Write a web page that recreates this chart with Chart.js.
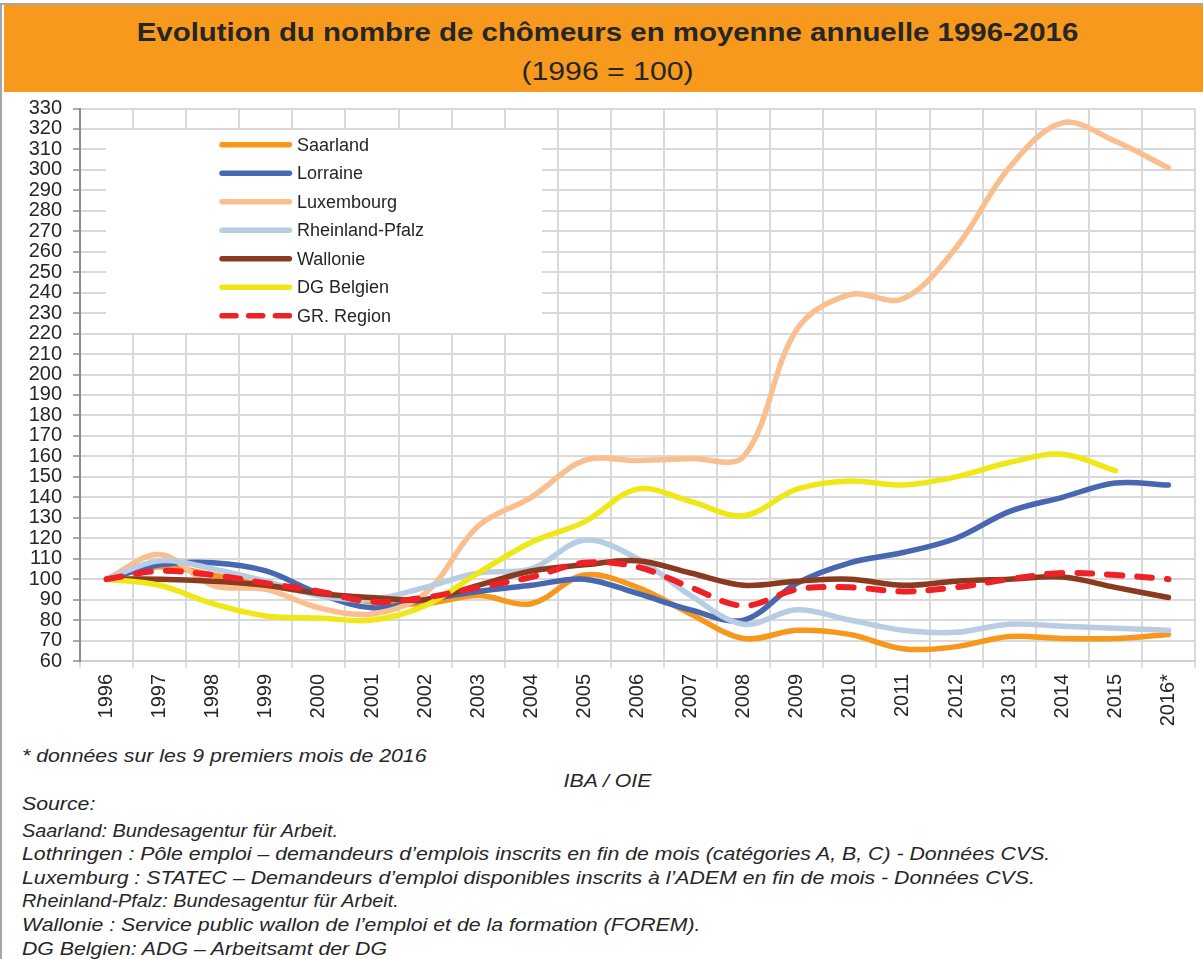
<!DOCTYPE html>
<html>
<head>
<meta charset="utf-8">
<script src="https://cdn.jsdelivr.net/npm/chart.js@4.4.1/dist/chart.umd.min.js"></script>
<style>
  html, body { margin: 0; padding: 0; background: #fff; }
  body { width: 1203px; height: 959px; position: relative; overflow: hidden;
         font-family: "Liberation Sans", Arial, sans-serif; color: #262626; }
  #frame { position: absolute; left: 0; top: 3px; width: 1201px; height: 956px;
           border-left: 2px solid #a6a6a6; border-top: 2px solid #a6a6a6; }
  #banner { position: absolute; left: 4px; top: 5px; width: 1199px; height: 87px; background: #F7991C; }
  .c { position: absolute; left: 6px; width: 1203px; text-align: center; white-space: nowrap; }
  #title { top: 14px; font-weight: bold; font-size: 26.5px; line-height: 36px; transform: scaleX(1.11); }
  #subtitle { top: 53px; font-size: 26.5px; line-height: 36px; transform: scaleX(1.14); }
  .n { position: absolute; left: 22px; white-space: nowrap; font-style: italic; font-size: 19px;
       line-height: 22px; transform: scaleX(1.12); transform-origin: 0 0; }
  .n.narrow { transform: scaleX(1.045); }
  #iba { font-style: italic; font-size: 19px; line-height: 22px; top: 770px; transform: scaleX(1.12); }
  #chart { position: absolute; left: 0; top: 95px; }
</style>
</head>
<body>
<div id="frame"></div>
<div id="banner"></div>
<div class="c" id="title">Evolution du nombre de chômeurs en moyenne annuelle 1996-2016</div>
<div class="c" id="subtitle">(1996 = 100)</div>
<canvas id="chart" width="1203" height="650"></canvas>
<div class="n" style="top:745px">* données sur les 9 premiers mois de 2016</div>
<div class="c" id="iba">IBA / OIE</div>
<div class="n" style="top:793px">Source:</div>
<div class="n narrow" style="top:820px">Saarland: Bundesagentur für Arbeit.</div>
<div class="n" style="top:843px">Lothringen : Pôle emploi – demandeurs d’emplois inscrits en fin de mois (catégories A, B, C) - Données CVS.</div>
<div class="n" style="top:867px">Luxemburg : STATEC – Demandeurs d’emploi disponibles inscrits à l’ADEM en fin de mois - Données CVS.</div>
<div class="n narrow" style="top:890px">Rheinland-Pfalz: Bundesagentur für Arbeit.</div>
<div class="n" style="top:914px">Wallonie : Service public wallon de l’emploi et de la formation (FOREM).</div>
<div class="n" style="top:938px">DG Belgien: ADG – Arbeitsamt der DG</div>

<script>
// Annual average number of jobseekers, index 1996 = 100
const years = ['1996', '1997', '1998', '1999', '2000', '2001', '2002', '2003', '2004', '2005', '2006',
               '2007', '2008', '2009', '2010', '2011', '2012', '2013', '2014', '2015', '2016*'];

const saarland       = [100, 106, 102, 97, 93, 89, 88, 92, 88, 102, 96, 83, 71, 75, 73, 66, 67, 72, 71, 71, 73];
const lorraine       = [100, 107, 108, 104, 93, 86, 90, 94, 97, 100, 93, 85, 80, 98, 108, 113, 120, 133, 140, 147, 146];
const luxembourg     = [100, 112, 97, 95, 86, 83, 93, 126, 140, 158, 158, 159, 160, 222, 239, 237, 262, 301, 323, 314, 301];
const rheinlandPfalz = [100, 109, 105, 99, 92, 90, 96, 103, 105, 119, 110, 92, 78, 85, 80, 75, 74, 78, 77, 76, 75];
const wallonie       = [100, 100, 99, 97, 93, 91, 90, 97, 104, 107, 109, 103, 97, 99, 100, 97, 99, 100, 101, 96, 91];
const dgBelgien      = [100, 97, 88, 82, 81, 80, 87, 103, 118, 128, 144, 138, 131, 144, 148, 146, 150, 157, 161, 153, null];
const grRegion       = [100, 104, 102, 98, 94, 89, 91, 96, 101, 108, 106, 96, 87, 95, 96, 94, 96, 100, 103, 102, 100];

const yMin = 60, yMax = 330, yStep = 10;

const FONT = '"Liberation Sans", Arial, sans-serif';
const TEXT = '#262626';

function series(label, data, color, order, dashed) {
  return {
    label, data, order,
    borderColor: color,
    backgroundColor: color,
    borderWidth: dashed ? 6 : 5.5,
    borderDash: dashed ? [15, 15] : [],
    borderCapStyle: 'round',
    borderJoinStyle: 'round',
    tension: 0.35,
    pointRadius: 0,
    pointHoverRadius: 0,
    fill: false,
    spanGaps: false
  };
}

// Legend box sitting inside the plot area, over the gridlines
const insideLegend = {
  id: 'insideLegend',
  beforeDatasetsDraw(chart) {
    const ctx = chart.ctx;
    ctx.save();
    ctx.fillStyle = '#ffffff';
    ctx.fillRect(106, 35, 436, 203);
    chart.data.datasets.forEach((ds, i) => {
      const y = 49.7 + i * 28.5;
      ctx.beginPath();
      ctx.lineWidth = 5.5;
      ctx.lineCap = 'round';
      ctx.strokeStyle = ds.borderColor;
      ctx.setLineDash(ds.borderDash && ds.borderDash.length ? [14, 12.7] : []);
      ctx.moveTo(222, y);
      ctx.lineTo(289.4, y);
      ctx.stroke();
      ctx.setLineDash([]);
      ctx.fillStyle = TEXT;
      ctx.font = '18px ' + FONT;
      ctx.textBaseline = 'middle';
      ctx.textAlign = 'left';
      ctx.fillText(ds.label, 297, y + 1);
    });
    ctx.restore();
  }
};

new Chart(document.getElementById('chart'), {
  type: 'line',
  data: {
    labels: years,
    datasets: [
      series('Saarland', saarland, '#F7981D', 6, false),
      series('Lorraine', lorraine, '#4767B1', 5, false),
      series('Luxembourg', luxembourg, '#F9BF8F', 4, false),
      series('Rheinland-Pfalz', rheinlandPfalz, '#B8CCE4', 3, false),
      series('Wallonie', wallonie, '#8A3A1E', 2, false),
      series('DG Belgien', dgBelgien, '#F0E816', 1, false),
      series('GR. Region', grRegion, '#EE2127', 0, true)
    ]
  },
  options: {
    responsive: false,
    animation: false,
    devicePixelRatio: 1,
    layout: { padding: { top: 13.5, right: 8, left: 0, bottom: 0 } },
    plugins: { legend: { display: false }, tooltip: { enabled: false }, title: { display: false } },
    scales: {
      x: {
        type: 'category',
        offset: true,
        afterFit: s => { s.height = 84; s.paddingLeft = 0; s.paddingRight = 0; },
        grid: {
          offset: true,
          color: c => (c.index === 0 ? 'rgba(0,0,0,0)' : '#d9d9d9'),
          lineWidth: 2,
          tickLength: 7,
          tickColor: '#d3d3d3',
          tickWidth: 1.5
        },
        border: { color: '#cfcfcf', width: 2 },
        ticks: {
          autoSkip: false,
          maxRotation: 90,
          minRotation: 90,
          padding: 6,
          color: TEXT,
          font: { family: FONT, size: 20 }
        }
      },
      y: {
        min: yMin,
        max: yMax,
        afterFit: s => { s.width = 80; s.paddingTop = 0; s.paddingBottom = 0; },
        grid: {
          color: '#d9d9d9',
          lineWidth: 2,
          tickLength: 7,
          tickColor: '#8c8c8c',
          tickWidth: 1.5
        },
        border: { color: '#8c8c8c', width: 2 },
        ticks: {
          stepSize: yStep,
          autoSkip: false,
          padding: 11,
          color: TEXT,
          font: { family: FONT, size: 20 }
        }
      }
    }
  },
  plugins: [insideLegend]
});
</script>
</body>
</html>
